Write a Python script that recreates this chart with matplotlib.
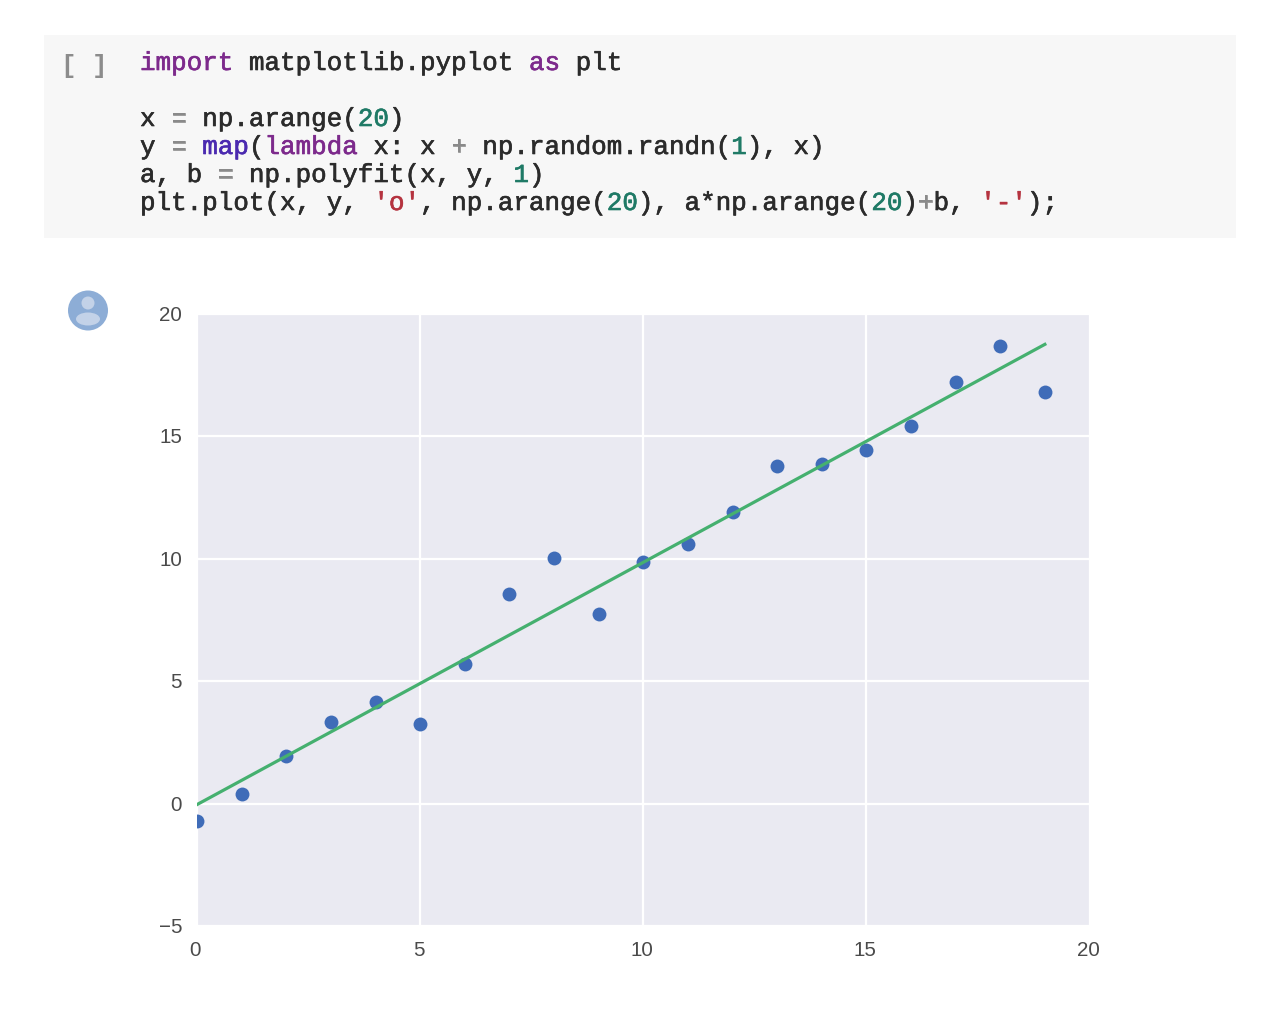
import numpy as np
import matplotlib
matplotlib.use("Agg")
import matplotlib.pyplot as plt
import matplotlib.patheffects as pe
from matplotlib.patches import Rectangle, Circle, Ellipse
from matplotlib.transforms import Affine2D, ScaledTranslation

W, H = 1264, 1020
xs = list(range(20))
ys = [-0.73, 0.41, 1.96, 3.35, 4.16, 3.27, 5.71, 8.57, 10.04, 7.76,
      9.88, 10.61, 11.92, 13.80, 13.88, 14.45, 15.43, 17.22, 18.69, 16.82]
x_ticks = [0, 5, 10, 15, 20]
y_ticks = [-5, 0, 5, 10, 15, 20]

PURPLE, GREEN, VIOLET, RED, DARK, GREY = "#7d2a8c", "#1f7a66", "#4b2ab0", "#b5333f", "#2b2b2b", "#8a8a8a"
code_lines = [
    (64, [("import", PURPLE), (" matplotlib.pyplot ", DARK), ("as", PURPLE), (" plt", DARK)]),
    (120, [("x ", DARK), ("=", GREY), (" np.arange(", DARK), ("20", GREEN), (")", DARK)]),
    (148, [("y ", DARK), ("=", GREY), (" ", DARK), ("map", VIOLET), ("(", DARK), ("lambda", PURPLE),
           (" x: x ", DARK), ("+", GREY), (" np.random.randn(", DARK), ("1", GREEN), ("), x)", DARK)]),
    (176, [("a, b ", DARK), ("=", GREY), (" np.polyfit(x, y, ", DARK), ("1", GREEN), (")", DARK)]),
    (204, [("plt.plot(x, y, ", DARK), ("'o'", RED), (", np.arange(", DARK), ("20", GREEN), ("), a*np.arange(", DARK),
           ("20", GREEN), (")", DARK), ("+", GREY), ("b, ", DARK), ("'-'", RED), (");", DARK)]),
]

fig = plt.figure(figsize=(W / 100, H / 100), dpi=100, facecolor="white")
px = Affine2D().scale(1, -1).translate(0, H)  # pixel coordinates, y downward

fig.add_artist(Rectangle((44, 36), 1192, 203, transform=px, fc="#f7f7f7", ec="none"))
fig.text(61, 66, "[ ]", transform=px, family="Liberation Mono", fontsize=18.6,
         color="#8c8c8c", va="center", ha="left", weight="bold")

CHAR = 15.56
for ypos, tokens in code_lines:
    col = 0
    for txt, c in tokens:
        if txt.strip():
            n_lead = len(txt) - len(txt.lstrip())
            t = fig.text(140 + (col + n_lead) * CHAR, ypos, txt.strip(), transform=px,
                         family="Liberation Mono", fontsize=18.66, color=c,
                         va="center", ha="left")
            t.set_path_effects([pe.withStroke(linewidth=0.45, foreground=c)])
        col += len(txt)

# avatar
fig.add_artist(Circle((88, 311.5), 20, transform=px, fc="#8dadd6", ec="none"))
fig.add_artist(Circle((88, 304), 6.5, transform=px, fc="#c3d2e8", ec="none"))
fig.add_artist(Ellipse((88, 320), 24, 13, transform=px, fc="#c3d2e8", ec="none"))

left, right, top, bottom = 197, 1089.5, 315, 927
ax = fig.add_axes([left / W, 1 - bottom / H, (right - left) / W, (bottom - top) / H])
ax.set_facecolor("#eaeaf2")
for s in ax.spines.values():
    s.set_visible(False)
ax.set_axisbelow(True)
ax.grid(True, color="white", lw=1.6)
a, b = np.polyfit(xs, ys, 1)
ax.plot(xs, ys, "o", color="#3f6cb8", ms=10, mew=0, zorder=3)
ax.plot(xs, a * np.array(xs) + b, "-", color="#45b06f", lw=2.3, zorder=3)
ax.set_xlim(0, 20)
ax.set_ylim(-5, 20)
ax.set_xticks(x_ticks)
ax.set_yticks(y_ticks)
ax.set_yticklabels([str(v).replace("-", "\u2212") for v in y_ticks])
ax.tick_params(length=0, labelsize=14.8, labelcolor="#4a4a4a", pad=10)
for t in ax.get_xticklabels():
    t.set_family("Liberation Sans")
    t.set_transform(t.get_transform() + ScaledTranslation(-1.5 / 100, 0, fig.dpi_scale_trans))
for t in ax.get_yticklabels():
    t.set_family("Liberation Sans")
    t.set_transform(t.get_transform() + ScaledTranslation(-1 / 100, 1.5 / 100, fig.dpi_scale_trans))

fig.savefig("out.png", dpi=100, facecolor="white")
